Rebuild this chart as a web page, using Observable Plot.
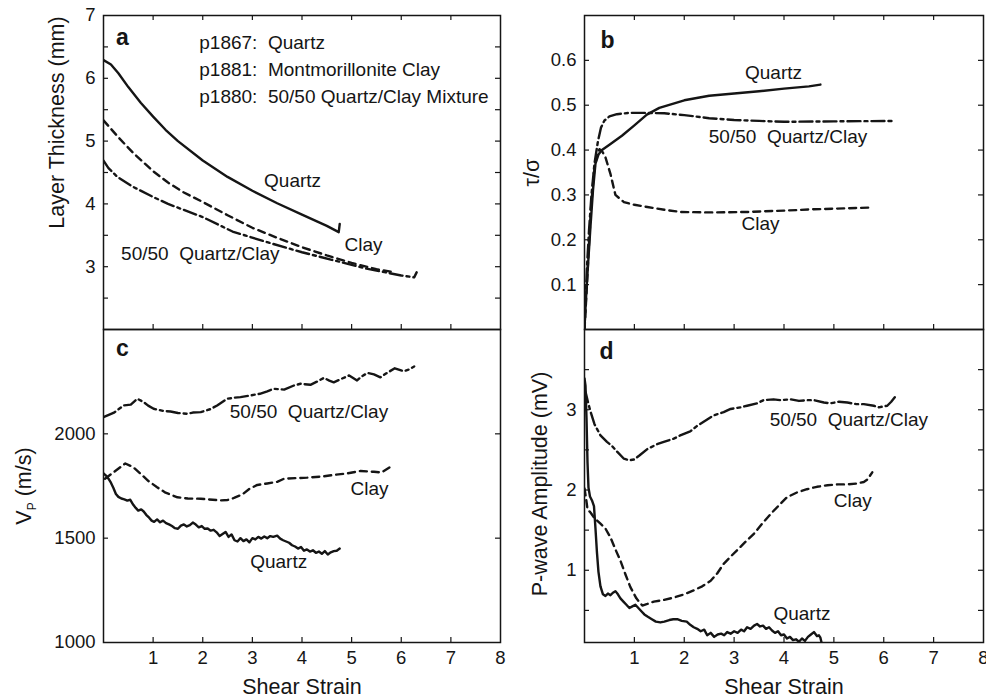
<!DOCTYPE html>
<html><head><meta charset="utf-8">
<script src="https://cdn.jsdelivr.net/npm/d3@7"></script>
<script src="https://cdn.jsdelivr.net/npm/@observablehq/plot@0.6"></script>
<style>
body{margin:0;background:#fff;}
#chart{position:relative;width:986px;height:699px;background:#fff;}
#chart svg{position:absolute;left:0;top:0;}
</style></head><body><div id="chart"></div>
<script>
// ---------- Panel a: Layer thickness (mm) vs shear strain ----------
const aQuartz = [[0,6.29],[0.15,6.22],[0.3,6.08],[0.5,5.86],[0.75,5.61],[1.0,5.39],[1.25,5.18],[1.5,5.0],[2.0,4.69],[2.5,4.43],[3.0,4.21],[3.5,4.01],[4.0,3.83],[4.5,3.65],[4.74,3.55],[4.76,3.68]];
const aClay = [[0,5.33],[0.1,5.24],[0.3,5.06],[0.6,4.81],[1.0,4.52],[1.3,4.34],[1.6,4.19],[2.0,4.03],[2.5,3.82],[3.0,3.62],[3.5,3.46],[4.0,3.31],[4.5,3.18],[5.0,3.06],[5.5,2.96],[5.8,2.92]];
const aMix = [[0,4.69],[0.1,4.57],[0.28,4.43],[0.6,4.27],[1.0,4.11],[1.3,4.0],[1.6,3.91],[2.0,3.79],[2.6,3.56],[3.3,3.39],[4.0,3.23],[4.6,3.11],[5.3,2.97],[6.0,2.86],[6.26,2.83],[6.31,2.91]];
const aLabels = [[3.81,4.36,"Quartz"],[5.24,3.34,"Clay"],[1.95,3.21,"50/50\u00a0 Quartz/Clay"]];
const aLegend = [[1.93,6.57,"p1867:\u00a0 Quartz"],[1.93,6.14,"p1881:\u00a0 Montmorillonite Clay"],[1.93,5.71,"p1880:\u00a0 50/50 Quartz/Clay Mixture"]];
const aYTicks = [2.5,3,3.5,4,4.5,5,5.5,6,6.5];
const aYLabels = [3,4,5,6,7];

// ---------- Panel b: friction tau/sigma ----------
const bQuartz = [[0,0.005],[0.04,0.09],[0.08,0.16],[0.12,0.23],[0.17,0.31],[0.22,0.37],[0.28,0.39],[0.35,0.40],[0.5,0.412],[0.75,0.432],[1.0,0.455],[1.25,0.479],[1.5,0.494],[2.0,0.511],[2.5,0.521],[3.0,0.526],[3.5,0.531],[4.0,0.537],[4.5,0.542],[4.73,0.546]];
const bMix = [[0,0.0],[0.02,0.06],[0.05,0.14],[0.09,0.22],[0.14,0.30],[0.2,0.37],[0.27,0.42],[0.33,0.45],[0.4,0.466],[0.5,0.475],[0.65,0.480],[0.9,0.483],[1.2,0.483],[1.6,0.482],[2.0,0.478],[2.5,0.471],[3.0,0.467],[3.5,0.465],[4.0,0.463],[5.0,0.464],[6.23,0.465]];
const bClay = [[0,0],[0.04,0.08],[0.08,0.17],[0.13,0.27],[0.19,0.35],[0.25,0.39],[0.3,0.402],[0.35,0.398],[0.42,0.384],[0.52,0.347],[0.62,0.30],[0.79,0.284],[1.0,0.278],[1.26,0.273],[1.6,0.267],[1.92,0.262],[2.5,0.261],[3.26,0.262],[4.0,0.265],[4.6,0.268],[5.2,0.27],[5.78,0.272]];
const bLabels = [[3.79,0.571,"Quartz"],[4.08,0.430,"50/50\u00a0 Quartz/Clay"],[3.53,0.236,"Clay"]];
const bYTicks = [0.1,0.2,0.3,0.4,0.5,0.6];
const bYLabels = [0.1,0.2,0.3,0.4,0.5,0.6];

// ---------- Panel c: Vp (m/s) ----------
const cQuartz = [[0,1811],[0.05,1800],[0.1,1785],[0.14,1770],[0.2,1740],[0.25,1712],[0.3,1698],[0.36,1690],[0.42,1686],[0.48,1680],[0.54,1684],[0.6,1660],[0.65,1645],[0.7,1632],[0.76,1638],[0.81,1628],[0.86,1612],[0.92,1598],[0.97,1584],[1.02,1578],[1.08,1590],[1.14,1576],[1.2,1584],[1.26,1572],[1.32,1566],[1.38,1558],[1.44,1548],[1.5,1545],[1.56,1560],[1.62,1566],[1.68,1556],[1.74,1562],[1.8,1575],[1.86,1565],[1.92,1552],[1.98,1558],[2.04,1545],[2.1,1546],[2.16,1536],[2.22,1540],[2.28,1528],[2.34,1510],[2.4,1520],[2.46,1530],[2.52,1506],[2.58,1518],[2.64,1490],[2.7,1484],[2.76,1500],[2.82,1486],[2.88,1494],[2.94,1480],[3.0,1500],[3.06,1494],[3.12,1506],[3.18,1498],[3.24,1508],[3.3,1500],[3.36,1510],[3.42,1506],[3.5,1512],[3.56,1498],[3.62,1490],[3.68,1484],[3.74,1478],[3.8,1466],[3.86,1460],[3.92,1450],[3.98,1458],[4.04,1440],[4.1,1446],[4.16,1436],[4.22,1442],[4.28,1430],[4.34,1436],[4.4,1425],[4.46,1438],[4.52,1422],[4.58,1432],[4.64,1438],[4.7,1440],[4.76,1450]];
const cMix = [[0,2080],[0.2,2100],[0.41,2136],[0.55,2140],[0.68,2168],[0.81,2152],[0.9,2135],[1.01,2120],[1.2,2110],[1.35,2107],[1.5,2100],[1.69,2096],[1.8,2102],[1.96,2104],[2.15,2118],[2.29,2136],[2.49,2168],[2.63,2173],[2.76,2176],[2.96,2184],[3.15,2192],[3.3,2204],[3.43,2216],[3.64,2212],[3.84,2232],[3.97,2240],[4.17,2235],[4.3,2250],[4.44,2268],[4.55,2255],[4.64,2247],[4.78,2262],[4.95,2280],[5.11,2256],[5.2,2275],[5.32,2292],[5.45,2285],[5.58,2271],[5.7,2290],[5.87,2314],[6.05,2300],[6.15,2308],[6.26,2323]];
const cClay = [[0.03,1785],[0.2,1815],[0.44,1858],[0.6,1840],[0.75,1808],[0.9,1775],[1.08,1744],[1.25,1718],[1.49,1696],[1.7,1690],[1.96,1689],[2.2,1684],[2.36,1681],[2.5,1683],[2.63,1693],[2.8,1710],[2.95,1738],[3.1,1755],[3.3,1762],[3.5,1770],[3.64,1785],[3.9,1788],[4.1,1790],[4.4,1795],[4.64,1803],[4.9,1810],[5.18,1822],[5.45,1818],[5.6,1815],[5.79,1843]];
const cLabels = [[4.14,2104,"50/50\u00a0 Quartz/Clay"],[5.36,1738,"Clay"],[3.53,1385,"Quartz"]];
const cYTicks = [1500,2000];
const cYLabels = [1000,1500,2000];

// ---------- Panel d: P-wave amplitude (mV) ----------
const dQuartz = [[0,3.39],[0.02,3.30],[0.04,2.90],[0.06,2.35],[0.08,2.03],[0.11,1.92],[0.15,1.87],[0.19,1.80],[0.22,1.52],[0.25,1.22],[0.28,0.98],[0.32,0.80],[0.37,0.70],[0.42,0.68],[0.47,0.71],[0.52,0.69],[0.57,0.72],[0.62,0.74],[0.67,0.70],[0.72,0.65],[0.78,0.61],[0.84,0.57],[0.9,0.53],[0.96,0.55],[1.02,0.57],[1.08,0.53],[1.14,0.49],[1.2,0.45],[1.27,0.42],[1.35,0.39],[1.43,0.36],[1.52,0.35],[1.6,0.36],[1.7,0.38],[1.78,0.39],[1.86,0.39],[1.95,0.37],[2.05,0.36],[2.12,0.32],[2.19,0.29],[2.26,0.27],[2.33,0.24],[2.4,0.26],[2.46,0.19],[2.53,0.22],[2.6,0.17],[2.67,0.20],[2.74,0.21],[2.8,0.19],[2.86,0.23],[2.93,0.21],[3.0,0.24],[3.07,0.22],[3.14,0.26],[3.2,0.24],[3.26,0.29],[3.33,0.27],[3.4,0.31],[3.46,0.33],[3.52,0.30],[3.58,0.31],[3.64,0.27],[3.7,0.29],[3.76,0.25],[3.82,0.22],[3.88,0.24],[3.94,0.19],[4.0,0.20],[4.06,0.15],[4.12,0.17],[4.18,0.13],[4.24,0.14],[4.3,0.11],[4.36,0.15],[4.42,0.12],[4.48,0.17],[4.54,0.20],[4.6,0.23],[4.66,0.18],[4.7,0.19],[4.73,0.16],[4.76,0.08]];
const dMix = [[0,3.25],[0.03,3.2],[0.08,3.07],[0.12,2.98],[0.2,2.82],[0.32,2.68],[0.45,2.6],[0.55,2.55],[0.65,2.48],[0.79,2.39],[0.9,2.37],[0.99,2.38],[1.1,2.43],[1.26,2.51],[1.45,2.57],[1.59,2.6],[1.79,2.64],[1.92,2.68],[2.12,2.73],[2.26,2.80],[2.46,2.88],[2.59,2.93],[2.79,2.97],[2.93,3.01],[3.13,3.03],[3.26,3.05],[3.46,3.08],[3.59,3.12],[3.79,3.13],[3.93,3.12],[4.13,3.13],[4.3,3.11],[4.46,3.12],[4.6,3.12],[4.8,3.09],[4.93,3.08],[5.1,3.1],[5.27,3.09],[5.45,3.07],[5.6,3.07],[5.8,3.05],[5.9,3.03],[6.07,3.05],[6.15,3.1],[6.24,3.17]];
const dClay = [[0,2.02],[0.03,1.9],[0.06,1.76],[0.12,1.72],[0.2,1.65],[0.32,1.58],[0.42,1.52],[0.52,1.41],[0.62,1.26],[0.72,1.12],[0.82,0.95],[0.92,0.79],[1.04,0.65],[1.16,0.56],[1.26,0.58],[1.39,0.61],[1.59,0.63],[1.79,0.66],[2.0,0.7],[2.19,0.75],[2.36,0.8],[2.53,0.87],[2.66,0.96],[2.79,1.08],[2.93,1.17],[3.06,1.25],[3.22,1.35],[3.39,1.45],[3.56,1.58],[3.73,1.70],[3.9,1.81],[4.06,1.91],[4.26,1.97],[4.46,2.01],[4.66,2.04],[4.87,2.06],[5.07,2.07],[5.27,2.07],[5.45,2.08],[5.6,2.1],[5.67,2.13],[5.77,2.22]];
const dLabels = [[5.30,2.875,"50/50\u00a0 Quartz/Clay"],[5.38,1.87,"Clay"],[4.36,0.458,"Quartz"]];
const dYTicks = [0.5,1,1.5,2,2.5,3,3.5];
const dYLabels = [1,2,3];

// ---------- shared x axis ----------
const xTicks = [1,2,3,4,5,6,7];
const xLabels = [1,2,3,4,5,6,7,8];
const xTitle = "Shear Strain";

const W = 986, H = 699;
const FONT = "'Liberation Sans', Arial, Helvetica, sans-serif";
const INK = "#151515";
const DASH_CLAY = "7,5";
const DASH_MIX = "13,4,3,4";

function makePanel(p) {
  const innerW = W - p.ml - p.mr, innerH = H - p.mt - p.mb, T = 5;
  const marks = [];
  for (const s of p.series) {
    marks.push(Plot.line(s.data, {x: d => d[0], y: d => d[1], stroke: INK, strokeWidth: 2.4,
      strokeDasharray: s.dash, clip: true, strokeLinejoin: "round"}));
  }
  marks.push(Plot.tickX(xTicks, {x: d => d, insetTop: innerH - T, stroke: INK, strokeWidth: 1.2}));
  if (p.topTicks) marks.push(Plot.tickX(xTicks, {x: d => d, insetBottom: innerH - T, stroke: INK, strokeWidth: 1.2}));
  marks.push(Plot.tickY(p.yTicks, {y: d => d, insetRight: innerW - T, stroke: INK, strokeWidth: 1.2}));
  marks.push(Plot.tickY(p.yTicks, {y: d => d, insetLeft: innerW - T, stroke: INK, strokeWidth: 1.2}));
  marks.push(Plot.frame({stroke: INK, strokeWidth: 1.5}));
  marks.push(Plot.axisY(p.yLabels, {tickSize: 0, tickPadding: 8, tickFormat: d => String(d), fontSize: 18.5, label: null}));
  if (p.showX) {
    marks.push(Plot.axisX(xLabels, {tickSize: 0, tickPadding: 8, tickFormat: d => String(d), fontSize: 18.5, label: null}));
    marks.push(Plot.text([xTitle], {frameAnchor: "bottom", dy: 45, fontSize: 21.5, lineAnchor: "middle", fill: INK}));
  }
  marks.push(Plot.text(p.labels, {x: d => d[0], y: d => d[1], text: d => d[2], fontSize: 19, textAnchor: "middle", lineAnchor: "middle", fill: INK}));
  if (p.legend) marks.push(Plot.text(p.legend, {x: d => d[0], y: d => d[1], text: d => d[2], fontSize: 19, textAnchor: "start", lineAnchor: "middle", fill: INK}));
  marks.push(Plot.text([p.letter], {frameAnchor: "top-left", dx: p.letterDx, dy: p.letterDy, fontSize: 23, fontWeight: "bold", textAnchor: "middle", lineAnchor: "bottom", fill: INK}));
  if (p.yTitle) marks.push(Plot.text([p.yTitle], {frameAnchor: "left", dx: p.ytDx, dy: p.ytDy, rotate: -90, fontSize: 21.5, textAnchor: "middle", lineAnchor: "middle", fill: INK}));
  return Plot.plot({
    width: W, height: H,
    marginLeft: p.ml, marginRight: p.mr, marginTop: p.mt, marginBottom: p.mb,
    x: p.showX ? {domain: [0, 8]} : {domain: [0, 8], axis: null},
    y: {domain: p.yDomain},
    style: {background: "transparent", fontFamily: FONT, fontSize: "18.5px", color: INK, overflow: "visible"},
    marks
  });
}

const chart = document.getElementById("chart");

const A = makePanel({ml: 103, mr: 486, mt: 15, mb: 370, yDomain: [2, 7], yTicks: aYTicks, yLabels: aYLabels,
  series: [{data: aQuartz}, {data: aClay, dash: DASH_CLAY}, {data: aMix, dash: DASH_MIX}],
  labels: aLabels, legend: aLegend, letter: "a", letterDx: 19, letterDy: 29, topTicks: true,
  yTitle: "Layer Thickness (mm)", ytDx: -46, ytDy: -50});
const B = makePanel({ml: 584, mr: 3, mt: 15, mb: 370, yDomain: [0, 0.7], yTicks: bYTicks, yLabels: bYLabels,
  series: [{data: bQuartz}, {data: bClay, dash: DASH_CLAY}, {data: bMix, dash: DASH_MIX}],
  labels: bLabels, letter: "b", letterDx: 23, letterDy: 32, topTicks: true,
  yTitle: "\u03c4/\u03c3", ytDx: -52, ytDy: 0});
const C = makePanel({ml: 103, mr: 486, mt: 329, mb: 57, yDomain: [1000, 2500], yTicks: cYTicks, yLabels: cYLabels,
  series: [{data: cQuartz}, {data: cClay, dash: DASH_CLAY}, {data: cMix, dash: DASH_MIX}],
  labels: cLabels, letter: "c", letterDx: 19, letterDy: 26, showX: true});
const D = makePanel({ml: 584, mr: 3, mt: 329, mb: 57, yDomain: [0.1, 4], yTicks: dYTicks, yLabels: dYLabels,
  series: [{data: dQuartz}, {data: dClay, dash: DASH_CLAY}, {data: dMix, dash: DASH_MIX}],
  labels: dLabels, letter: "d", letterDx: 22, letterDy: 29, showX: true,
  yTitle: "P-wave Amplitude (mV)", ytDx: -44, ytDy: -2});

for (const s of [A, B, C, D]) chart.appendChild(s);

// V_P (m/s) title with subscript
const vt = d3.select(C).append("text")
  .attr("transform", "translate(24,486) rotate(-90)")
  .attr("text-anchor", "middle").attr("dy", "0.32em")
  .attr("fill", INK).style("font-size", "21.5px").style("font-family", FONT);
vt.append("tspan").text("V");
vt.append("tspan").attr("dy", "5").style("font-size", "12px").text("P");
vt.append("tspan").attr("dy", "-5").text(" (m/s)");
</script></body></html>
